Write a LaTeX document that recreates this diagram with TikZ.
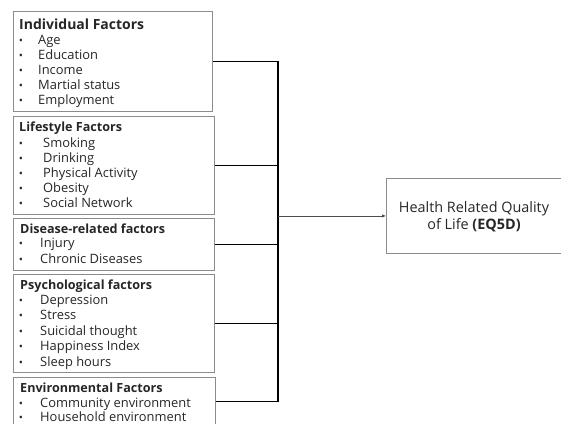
\documentclass[tikz,border=0pt]{standalone}
\usepackage{fontspec}
\setmainfont{Open Sans}
\usetikzlibrary{arrows.meta}
\begin{document}
\begin{tikzpicture}[x=1pt,y=-1pt,
  box/.style={draw=black!45, line width=0.9pt, anchor=north west, inner sep=0pt},
  title/.style={anchor=base west, inner sep=0pt, font=\fontsize{12.6}{13}\selectfont\bfseries, text=black!85},
  item/.style={anchor=base west, inner sep=0pt, font=\fontsize{12.9}{13}\selectfont, text=black!85},
  dot/.style={anchor=base, inner sep=0pt, font=\fontsize{11}{12}\selectfont, text=black!85},
  conn/.style={draw=black, line width=1.1pt},
]
\useasboundingbox (0,0) rectangle (561,423);
\clip (0,0) rectangle (561,423);
% boxes
\node[box, minimum width=199.5pt, minimum height=100pt] (b1) at (12.7,11) {};
\node[box, minimum width=201pt, minimum height=98pt] (b2) at (12.7,116) {};
\node[box, minimum width=201pt, minimum height=52pt] (b3) at (13,218) {};
\node[box, minimum width=201pt, minimum height=98pt] (b4) at (13,274) {};
\node[box, minimum width=202pt, minimum height=48pt] (b5) at (13,377) {};
\node[box, minimum width=176pt, minimum height=75pt] (hr) at (386,178) {};
% titles
\node[title, font=\fontsize{14}{15}\selectfont\bfseries] (t1) at (19,29) {Individual Factors};
\node[title] (t2) at (19,131.5) {Lifestyle Factors};
\node[title] (t3) at (20,233.5) {Disease-related factors};
\node[title] (t4) at (20,289.5) {Psychological factors};
\node[title] (t5) at (20,392.5) {Environmental Factors};
% items
\foreach \t/\y in {Age/44,Education/59,Income/74,Martial status/89,Employment/104}{
  \node[dot] (d1-\y) at (21,\y) {•};
  \node[item] (i1-\y) at (38,\y) {\t};
}
\foreach \t/\y in {Smoking/147,Drinking/162,Physical Activity/177,Obesity/192,Social Network/207}{
  \node[dot] (d2-\y) at (21,\y) {•};
  \node[item] (i2-\y) at (43,\y) {\t};
}
\foreach \t/\y in {Injury/247,Chronic Diseases/263}{
  \node[dot] (d3-\y) at (21,\y) {•};
  \node[item] (i3-\y) at (40,\y) {\t};
}
\foreach \t/\y in {Depression/304,Stress/319,Suicidal thought/335,Happiness Index/350,Sleep hours/366}{
  \node[dot] (d4-\y) at (21,\y) {•};
  \node[item] (i4-\y) at (40,\y) {\t};
}
\foreach \t/\y in {Community environment/407,Household environment/421}{
  \node[dot] (d5-\y) at (21,\y) {•};
  \node[item] (i5-\y) at (40,\y) {\t};
}
% outcome text
\node[align=center, inner sep=0pt, font=\fontsize{14.4}{17.5}\selectfont, text=black!85] (hrt) at (474,216.5)
  {Health Related Quality\\of Life \textbf{(EQ5D)}};
% connectors
\coordinate (vx) at (278,0);
\draw[conn] (b1.east) -- (b1.east -| vx) -- (b5.east -| vx) -- (b5.east);
\draw[conn] (b2.east) -- (b2.east -| vx);
\draw[conn] (b3.east) -- (b3.east -| vx);
\draw[conn] (b4.east) -- (b4.east -| vx);
\draw[draw=black!70, line width=0.8pt, -{Latex[length=4pt,width=3.5pt]}] (hr.west -| vx) -- (hr.west);
\end{tikzpicture}
\end{document}
